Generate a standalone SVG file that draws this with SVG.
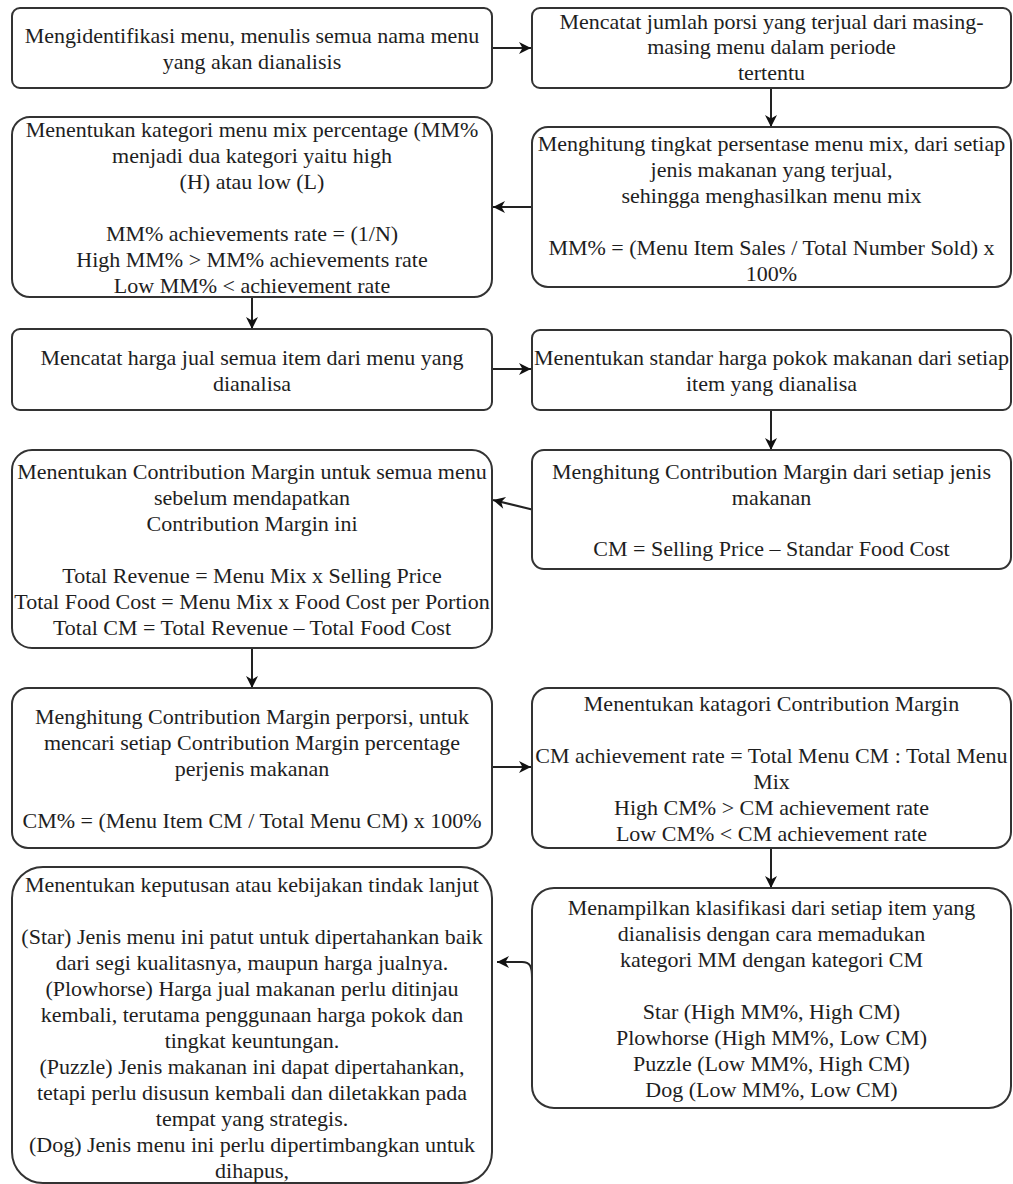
<svg xmlns="http://www.w3.org/2000/svg" width="1013" height="1184" viewBox="0 0 1013 1184">
<style>
.box{fill:#ffffff;stroke:#333333;stroke-width:2}
.t{font-family:'Liberation Serif','DejaVu Serif',serif;font-size:22px;fill:#1e1e1e;text-anchor:middle}
.c{fill:none;stroke:#222222;stroke-width:2;marker-end:url(#arr)}
</style>
<defs>
<marker id="arr" markerUnits="userSpaceOnUse" markerWidth="14" markerHeight="14" viewBox="0 0 14 14" refX="13" refY="7" orient="auto">
<path d="M1,1 L13,7 L1,13 L4.5,7 Z" fill="#111111"/>
</marker>
</defs>
<rect width="1013" height="1184" fill="#ffffff"/>
<g id="connectors">
<path class="c" d="M492 48 L531 48"/>
<path class="c" d="M771 88 L771 127"/>
<path class="c" d="M532 207 L493 207"/>
<path class="c" d="M252 297 L252 329"/>
<path class="c" d="M492 369 L531 369"/>
<path class="c" d="M771 410 L771 450"/>
<path class="c" d="M532 509.5 L493 500"/>
<path class="c" d="M252 648 L252 688"/>
<path class="c" d="M492 767 L531 767"/>
<path class="c" d="M771 848 L771 888"/>
<path class="c" d="M532 978 C532 966 530 962 522 962 L497 962"/>
</g>
<g id="n1">
<rect class="box" x="12" y="8" width="480" height="80" rx="8"/>
<text class="t" font-family="Liberation Serif, DejaVu Serif, serif"><tspan x="252" y="43">Mengidentifikasi menu, menulis semua nama menu</tspan><tspan x="252" y="69">yang akan dianalisis</tspan></text>
</g>
<g id="n2">
<rect class="box" x="532" y="8" width="479" height="80" rx="8"/>
<text class="t"><tspan x="771.5" y="28.5">Mencatat jumlah porsi yang terjual dari masing-</tspan><tspan x="771.5" y="54.4">masing menu dalam periode</tspan><tspan x="771.5" y="80.3">tertentu</tspan></text>
</g>
<g id="n3">
<rect class="box" x="532" y="127" width="479" height="160" rx="16"/>
<text class="t"><tspan x="771.5" y="151">Menghitung tingkat persentase menu mix, dari setiap</tspan><tspan x="771.5" y="176.9">jenis makanan yang terjual,</tspan><tspan x="771.5" y="202.8">sehingga menghasilkan menu mix</tspan><tspan x="771.5" y="254.6">MM% = (Menu Item Sales / Total Number Sold) x</tspan><tspan x="771.5" y="280.5">100%</tspan></text>
</g>
<g id="n4">
<rect class="box" x="12" y="117" width="480" height="180" rx="18"/>
<text class="t"><tspan x="252" y="137.3">Menentukan kategori menu mix percentage (MM%</tspan><tspan x="252" y="163.2">menjadi dua kategori yaitu high</tspan><tspan x="252" y="189.1">(H) atau low (L)</tspan><tspan x="252" y="240.9">MM% achievements rate = (1/N)</tspan><tspan x="252" y="266.8">High MM% &gt; MM% achievements rate</tspan><tspan x="252" y="292.7">Low MM% &lt; achievement rate</tspan></text>
</g>
<g id="n5">
<rect class="box" x="12" y="329" width="480" height="81" rx="8"/>
<text class="t"><tspan x="252" y="364.6">Mencatat harga jual semua item dari menu yang</tspan><tspan x="252" y="390.5">dianalisa</tspan></text>
</g>
<g id="n6">
<rect class="box" x="532" y="330" width="479" height="80" rx="8"/>
<text class="t"><tspan x="771.5" y="365">Menentukan standar harga pokok makanan dari setiap</tspan><tspan x="771.5" y="391">item yang dianalisa</tspan></text>
</g>
<g id="n7">
<rect class="box" x="532" y="450" width="479" height="119" rx="12"/>
<text class="t"><tspan x="771.5" y="478.7">Menghitung Contribution Margin dari setiap jenis</tspan><tspan x="771.5" y="504.6">makanan</tspan><tspan x="771.5" y="556.4">CM = Selling Price – Standar Food Cost</tspan></text>
</g>
<g id="n8">
<rect class="box" x="12" y="450" width="480" height="198" rx="20"/>
<text class="t"><tspan x="252" y="479.3">Menentukan Contribution Margin untuk semua menu</tspan><tspan x="252" y="505.2">sebelum mendapatkan</tspan><tspan x="252" y="531.1">Contribution Margin ini</tspan><tspan x="252" y="582.9">Total Revenue = Menu Mix x Selling Price</tspan><tspan x="252" y="608.8">Total Food Cost = Menu Mix x Food Cost per Portion</tspan><tspan x="252" y="634.7">Total CM = Total Revenue – Total Food Cost</tspan></text>
</g>
<g id="n9">
<rect class="box" x="12" y="688" width="480" height="160" rx="16"/>
<text class="t"><tspan x="252" y="724.2">Menghitung Contribution Margin perporsi, untuk</tspan><tspan x="252" y="750.1">mencari setiap Contribution Margin percentage</tspan><tspan x="252" y="776">perjenis makanan</tspan><tspan x="252" y="827.8">CM% = (Menu Item CM / Total Menu CM) x 100%</tspan></text>
</g>
<g id="n10">
<rect class="box" x="532" y="688" width="479" height="160" rx="16"/>
<text class="t"><tspan x="771.5" y="711.3">Menentukan katagori Contribution Margin</tspan><tspan x="771.5" y="763.1">CM achievement rate = Total Menu CM : Total Menu</tspan><tspan x="771.5" y="789">Mix</tspan><tspan x="771.5" y="814.9">High CM% &gt; CM achievement rate</tspan><tspan x="771.5" y="840.8">Low CM% &lt; CM achievement rate</tspan></text>
</g>
<g id="n11">
<rect class="box" x="532" y="888" width="479" height="220" rx="22"/>
<text class="t"><tspan x="771.5" y="915.4">Menampilkan klasifikasi dari setiap item yang</tspan><tspan x="771.5" y="941.3">dianalisis dengan cara memadukan</tspan><tspan x="771.5" y="967.2">kategori MM dengan kategori CM</tspan><tspan x="771.5" y="1019">Star (High MM%, High CM)</tspan><tspan x="771.5" y="1044.9">Plowhorse (High MM%, Low CM)</tspan><tspan x="771.5" y="1070.8">Puzzle (Low MM%, High CM)</tspan><tspan x="771.5" y="1096.7">Dog (Low MM%, Low CM)</tspan></text>
</g>
<g id="n12">
<rect class="box" x="12" y="867" width="480" height="316" rx="31"/>
<text class="t"><tspan x="252" y="892">Menentukan keputusan atau kebijakan tindak lanjut</tspan><tspan x="252" y="944">(Star) Jenis menu ini patut untuk dipertahankan baik</tspan><tspan x="252" y="970">dari segi kualitasnya, maupun harga jualnya.</tspan><tspan x="252" y="996">(Plowhorse) Harga jual makanan perlu ditinjau</tspan><tspan x="252" y="1022">kembali, terutama penggunaan harga pokok dan</tspan><tspan x="252" y="1048">tingkat keuntungan.</tspan><tspan x="252" y="1074">(Puzzle) Jenis makanan ini dapat dipertahankan,</tspan><tspan x="252" y="1100">tetapi perlu disusun kembali dan diletakkan pada</tspan><tspan x="252" y="1126">tempat yang strategis.</tspan><tspan x="252" y="1152">(Dog) Jenis menu ini perlu dipertimbangkan untuk</tspan><tspan x="252" y="1178">dihapus,</tspan></text>
</g>
</svg>
